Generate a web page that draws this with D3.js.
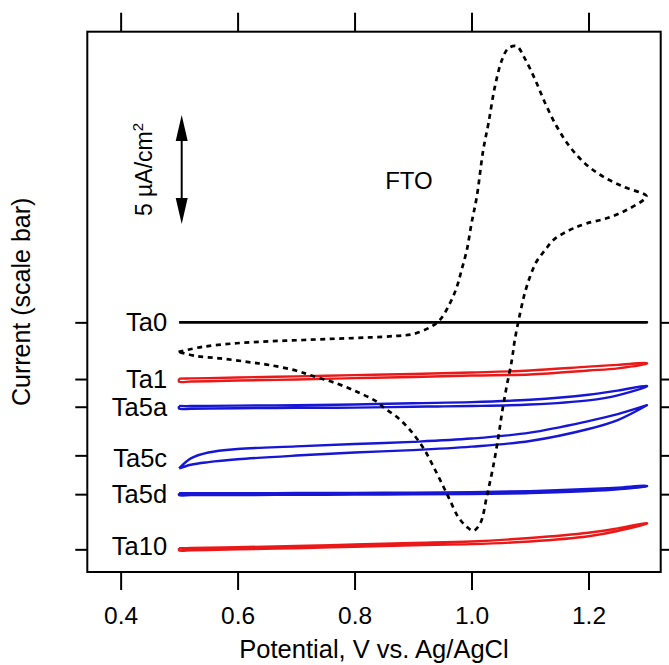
<!DOCTYPE html>
<html>
<head>
<meta charset="utf-8">
<script src="https://cdn.jsdelivr.net/npm/d3@7"></script>
<style>
  body { margin: 0; background: #fff; }
  svg { display: block; }
  text { font-family: "Liberation Sans", Arial, Helvetica, sans-serif; fill: #000; }
</style>
</head>
<body>
<svg id="chart" width="669" height="665"></svg>
<script>
// ---- Data -------------------------------------------------------------

// Potential grid (V vs. Ag/AgCl) shared by the Ta-film scans
const scanPotential = [0.5, 0.52, 0.55, 0.6, 0.7, 0.8, 0.9, 1.0, 1.1, 1.2, 1.25, 1.3];

// Sample names and the vertical offset (µA/cm²) each trace is stacked at
const sampleNames   = ["Ta0", "Ta1", "Ta5a", "Ta5c", "Ta5d", "Ta10"];
const sampleOffsets = [0, -2.60, -3.87, -6.10, -7.88, -10.41];

// Current relative to the trace offset (µA/cm²): forward (anodic) and reverse scans
const ta0Forward  = [0, 0, 0, 0, 0, 0, 0, 0, 0, 0, 0, 0];
const ta0Reverse  = [0, 0, 0, 0, 0, 0, 0, 0, 0, 0, 0, 0];
const ta1Forward  = [0.02, 0.03, 0.04, 0.07, 0.12, 0.18, 0.23, 0.30, 0.39, 0.57, 0.65, 0.73];
const ta1Reverse  = [-0.12, -0.11, -0.10, -0.07, -0.02, 0.04, 0.09, 0.16, 0.21, 0.39, 0.49, 0.71];
const ta5aForward = [0.03, 0.03, 0.04, 0.05, 0.07, 0.10, 0.16, 0.21, 0.32, 0.55, 0.74, 0.96];
const ta5aReverse = [-0.09, -0.09, -0.08, -0.07, -0.05, -0.04, 0.00, 0.03, 0.10, 0.29, 0.52, 0.94];
const ta5cForward = [-0.60, -0.14, 0.13, 0.29, 0.41, 0.52, 0.62, 0.77, 1.04, 1.57, 1.89, 2.30];
const ta5cReverse = [-0.60, -0.43, -0.31, -0.18, -0.01, 0.13, 0.24, 0.40, 0.66, 1.21, 1.62, 2.30];
const ta5dForward = [0.04, 0.04, 0.04, 0.04, 0.05, 0.06, 0.07, 0.09, 0.14, 0.24, 0.30, 0.38];
const ta5dReverse = [-0.04, -0.04, -0.04, -0.04, -0.03, -0.02, -0.01, 0.00, 0.05, 0.14, 0.22, 0.36];
const ta10Forward = [0.05, 0.06, 0.07, 0.10, 0.15, 0.22, 0.29, 0.36, 0.52, 0.76, 0.96, 1.20];
const ta10Reverse = [-0.05, -0.04, -0.03, 0.00, 0.05, 0.12, 0.19, 0.24, 0.36, 0.60, 0.84, 1.18];

// Bare FTO reference CV (µA/cm², same zero as Ta0)
const ftoForwardV = [0.499, 0.541, 0.598, 0.655, 0.712, 0.769, 0.826, 0.872, 0.900, 0.929, 0.946, 0.963,
                     0.975, 0.983, 0.992, 1.000, 1.009, 1.020, 1.029, 1.040, 1.052, 1.063, 1.077, 1.091,
                     1.109, 1.126, 1.146, 1.168, 1.194, 1.225, 1.260, 1.299];
const ftoForwardI = [-1.35, -1.12, -0.96, -0.87, -0.81, -0.75, -0.69, -0.62, -0.54, -0.23, 0.11, 0.87,
                     1.63, 2.40, 3.32, 4.54, 5.76, 7.90, 9.13, 10.81, 12.03, 12.57, 12.67, 12.11,
                     11.12, 10.05, 8.97, 8.06, 7.29, 6.68, 6.22, 5.80];
const ftoReverseV = [1.296, 1.265, 1.231, 1.197, 1.174, 1.157, 1.140, 1.126, 1.111, 1.100, 1.091, 1.083,
                     1.074, 1.069, 1.060, 1.052, 1.046, 1.037, 1.026, 1.015, 1.003, 0.992, 0.977, 0.963,
                     0.952, 0.935, 0.918, 0.895, 0.872, 0.852, 0.838, 0.804, 0.769, 0.724, 0.701, 0.655,
                     0.616, 0.570, 0.530, 0.499];
const ftoReverseI = [5.66, 5.15, 4.77, 4.54, 4.31, 4.08, 3.78, 3.32, 2.78, 2.09, 1.33, 0.41,
                     -0.81, -1.73, -2.95, -4.17, -5.25, -6.62, -8.00, -9.22, -9.56, -9.38, -8.92, -8.15,
                     -7.54, -6.62, -5.78, -4.94, -4.33, -3.95, -3.64, -3.18, -2.80, -2.42, -2.22, -1.96,
                     -1.81, -1.65, -1.55, -1.35];

// Axis ticks
const potentialTicks = [0.4, 0.6, 0.8, 1.0, 1.2];
const potentialTickLabels = ["0.4", "0.6", "0.8", "1.0", "1.2"];

// Scale bar size (µA/cm²)
const scaleBarValue = 5;

// ---- Drawing ----------------------------------------------------------

const W = 669, H = 665;
const margin = { top: 31.7, right: 8.3, bottom: 93, left: 87.3 };
const svg = d3.select("#chart");

const x = d3.scaleLinear().domain([0.343, 1.3235]).range([margin.left, W - margin.right]);
const y = d3.scaleLinear().domain([-11.45, 13.33]).range([H - margin.bottom, margin.top]);

const RED = "#ea1818", BLUE = "#1616d4";
const traceColor = { Ta0: "#000", Ta1: RED, Ta5a: BLUE, Ta5c: BLUE, Ta5d: BLUE, Ta10: RED };

const scans = {
  Ta0:  [ta0Forward,  ta0Reverse],
  Ta1:  [ta1Forward,  ta1Reverse],
  Ta5a: [ta5aForward, ta5aReverse],
  Ta5c: [ta5cForward, ta5cReverse],
  Ta5d: [ta5dForward, ta5dReverse],
  Ta10: [ta10Forward, ta10Reverse]
};

const line = d3.line()
  .x(d => x(d[0]))
  .y(d => y(d[1]))
  .curve(d3.curveCatmullRom.alpha(0.5));

// Ta-film traces: forward sweep out to 1.3 V, reverse sweep back to 0.5 V
sampleNames.forEach((name, i) => {
  const off = sampleOffsets[i];
  const [fwd, rev] = scans[name];
  const pts = scanPotential.map((v, k) => [v, off + fwd[k]]);
  for (let k = scanPotential.length - 1; k >= 0; k--) pts.push([scanPotential[k], off + rev[k]]);
  pts.push(pts[0]);
  svg.append("path")
    .attr("d", line(pts))
    .attr("fill", "none")
    .attr("stroke", traceColor[name])
    .attr("stroke-width", name === "Ta0" ? 2.6 : 2.4)
    .attr("stroke-linejoin", "round");
});

// FTO cyclic voltammogram (dotted)
const ftoPts = ftoForwardV.map((v, k) => [v, ftoForwardI[k]])
  .concat(ftoReverseV.map((v, k) => [v, ftoReverseI[k]]));
svg.append("path")
  .attr("d", line(ftoPts))
  .attr("fill", "none")
  .attr("stroke", "#000")
  .attr("stroke-width", 2.7)
  .attr("stroke-dasharray", "5,4.5");

// Frame
svg.append("rect")
  .attr("x", margin.left).attr("y", margin.top)
  .attr("width", W - margin.left - margin.right)
  .attr("height", H - margin.top - margin.bottom)
  .attr("fill", "none").attr("stroke", "#000").attr("stroke-width", 2);

// Axes
function styleAxis(g) {
  g.select(".domain").remove();
  g.selectAll(".tick line").attr("stroke", "#000").attr("stroke-width", 2);
  g.selectAll(".tick text").attr("font-size", 24.5).attr("fill", "#000")
    .attr("font-family", "Liberation Sans, Arial, sans-serif");
}

svg.append("g")
  .attr("transform", `translate(0,${H - margin.bottom})`)
  .call(d3.axisBottom(x).tickValues(potentialTicks)
    .tickFormat((d, i) => potentialTickLabels[i]).tickSize(18).tickPadding(17))
  .call(styleAxis);

svg.append("g")
  .attr("transform", `translate(0,${margin.top})`)
  .call(d3.axisTop(x).tickValues(potentialTicks).tickFormat("").tickSize(19))
  .call(styleAxis);

svg.append("g")
  .attr("transform", `translate(${margin.left},0)`)
  .call(d3.axisLeft(y).tickValues(sampleOffsets).tickFormat("").tickSize(12))
  .call(styleAxis);

svg.append("g")
  .attr("transform", `translate(${W - margin.right},0)`)
  .call(d3.axisRight(y).tickValues(sampleOffsets).tickFormat("").tickSize(12))
  .call(styleAxis);

// Sample labels beside the start of each trace
const labelNudge = { Ta5c: 3, Ta10: -3 };
svg.append("g").selectAll("text")
  .data(sampleNames)
  .join("text")
  .attr("x", x(0.5) - 12)
  .attr("y", (d, i) => y(sampleOffsets[i]) + (labelNudge[d] || 0))
  .attr("dy", "0.35em")
  .attr("text-anchor", "end")
  .attr("font-size", 25.5)
  .text(d => d);

// FTO label
svg.append("text")
  .attr("x", x(0.893)).attr("y", y(6.49))
  .attr("dy", "0.35em")
  .attr("text-anchor", "middle")
  .attr("font-size", 24)
  .text("FTO");

// Scale bar: double-headed arrow spanning scaleBarValue
const barX = 181.7, barBase = 4.51;
const yTop = y(barBase + scaleBarValue), yBot = y(barBase);
const headLen = 26, headHalf = 6;
svg.append("line")
  .attr("x1", barX).attr("x2", barX)
  .attr("y1", yTop + headLen - 2).attr("y2", yBot - headLen + 2)
  .attr("stroke", "#000").attr("stroke-width", 2);
svg.append("path")
  .attr("d", `M${barX},${yTop} L${barX - headHalf},${yTop + headLen} L${barX + headHalf},${yTop + headLen} Z`)
  .attr("fill", "#000");
svg.append("path")
  .attr("d", `M${barX},${yBot} L${barX - headHalf},${yBot - headLen} L${barX + headHalf},${yBot - headLen} Z`)
  .attr("fill", "#000");

const barLabel = svg.append("text")
  .attr("transform", `translate(152,${(yTop + yBot) / 2}) rotate(-90)`)
  .attr("text-anchor", "middle")
  .attr("font-size", 23);
barLabel.append("tspan").text("5 \u00B5A/cm");
barLabel.append("tspan").attr("dy", "-0.6em").attr("font-size", 15).text("2");

// Axis titles
svg.append("text")
  .attr("x", (margin.left + W - margin.right) / 2)
  .attr("y", 658)
  .attr("text-anchor", "middle")
  .attr("font-size", 25.5)
  .text("Potential, V vs. Ag/AgCl");

svg.append("text")
  .attr("transform", `translate(30,${(margin.top + H - margin.bottom) / 2}) rotate(-90)`)
  .attr("text-anchor", "middle")
  .attr("font-size", 25)
  .text("Current (scale bar)");
</script>
</body>
</html>
